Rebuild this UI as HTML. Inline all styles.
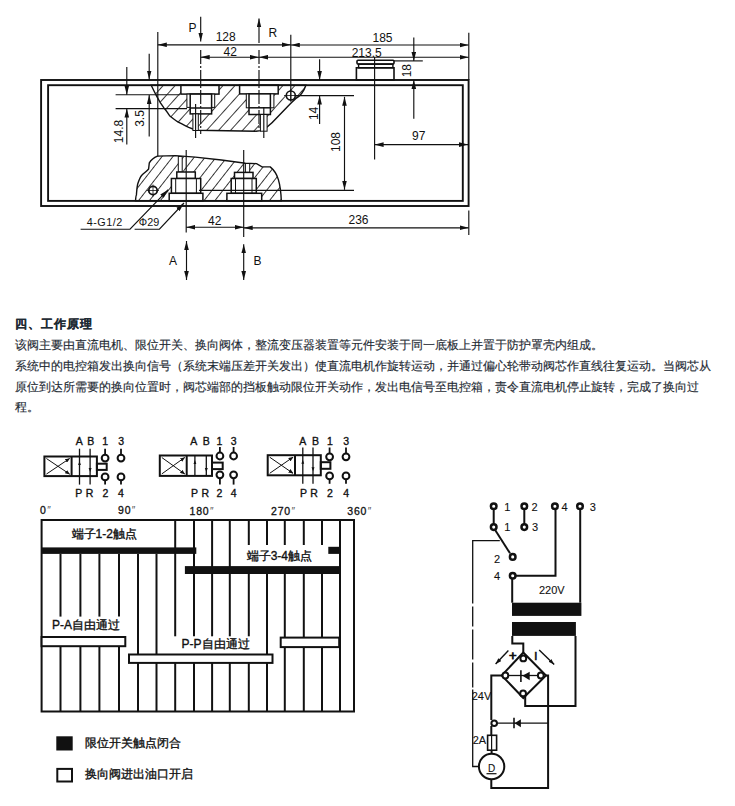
<!DOCTYPE html>
<html><head><meta charset="utf-8">
<style>
html,body{margin:0;padding:0;background:#fff;width:735px;height:806px;overflow:hidden}
svg{position:absolute;left:0;top:0}
.t{font-family:"Liberation Sans",sans-serif}
.para{position:absolute;left:15px;-webkit-text-stroke:0.15px currentColor;font-family:"Liberation Sans",sans-serif;font-size:12px;color:#1e2a33;white-space:nowrap;line-height:12px}
</style></head><body>
<svg width="735" height="806" viewBox="0 0 735 806">
<defs>
<pattern id="hatch" patternUnits="userSpaceOnUse" width="8.6" height="8.6" patternTransform="rotate(38)">
<line x1="0" y1="0" x2="0" y2="8.6" stroke="#111" stroke-width="1.65"/>
</pattern>
<pattern id="hatch2" patternUnits="userSpaceOnUse" width="8.9" height="8.9" patternTransform="rotate(42)">
<line x1="0" y1="0" x2="0" y2="8.9" stroke="#111" stroke-width="1.65"/>
</pattern>
<marker id="ah" viewBox="0 0 9 5" refX="9" refY="2.5" markerWidth="9" markerHeight="5" markerUnits="userSpaceOnUse" orient="auto-start-reverse">
<path d="M0,0.2 L9,2.5 L0,4.8 Z" fill="#111"/>
</marker>
<marker id="ahs" viewBox="0 0 6 4" refX="6" refY="2" markerWidth="6" markerHeight="4" markerUnits="userSpaceOnUse" orient="auto-start-reverse">
<path d="M0,0 L6,2 L0,4 Z" fill="#111"/>
</marker>
<marker id="ahv" viewBox="0 0 5 4" refX="4.5" refY="2" markerWidth="5" markerHeight="4" markerUnits="userSpaceOnUse" orient="auto">
<path d="M0,0 L5,2 L0,4 Z" fill="#111"/>
</marker>
</defs>

<!-- ============ TOP DRAWING ============ -->
<g id="top" fill="none" stroke="#111">
<!-- hatched blocks -->
<path id="ub" d="M151.2,85.2 L305.9,85.2 C304,91 300,96 295.7,98.7 C292,102 290,104 288.4,105.7 L272,122.8 C269,126 266,128.5 260.6,130.6 L256,131.2 L198,130.3 C196.5,130.2 196,130.1 195.5,130 L188.7,127.3 C186,126 184,125 181.9,123.9 L177.8,121.9 C174,119 172,118 169.6,115.7 C167,112 166,110 164.1,108.2 C161,104 159,101 157.3,97.3 C155,93 153,89 151.2,85.2 Z" fill="url(#hatch2)" stroke-width="1.4"/>
<path id="lb" d="M135.5,200.9 C135.8,197 136,195 136.4,194.9 C136.8,190 137,187 137.7,184 C139,180 140,177 141.8,175.2 C144,173 147,171 148.6,169 L149.3,162.9 C151,160 154,157.5 157.4,156.1 L175.7,155.6 L195.3,157.1 L221.4,160 L245.4,163.2 L256.6,163.6 L262,166.9 L270.2,166.9 C274,170 277,175 278.3,179.4 C280,185 281,192 281.3,200.9 Z" fill="url(#hatch)" stroke-width="1.4"/>

<!-- upper ports -->
<g fill="#fff" stroke-width="1.5">
<rect x="180.9" y="85.2" width="38.1" height="8.9"/>
<rect x="186.9" y="94.1" width="27.8" height="13.3" stroke-width="1"/>
<rect x="190.2" y="94.1" width="21.4" height="19.8"/>
<rect x="192.9" y="113.9" width="5.4" height="16.6" stroke-width="1"/>
<rect x="239.6" y="85.2" width="38.6" height="8.7"/>
<rect x="246.3" y="93.9" width="27.6" height="13.9" stroke-width="1"/>
<rect x="249" y="93.9" width="21.4" height="20.6"/>
<rect x="260.4" y="114.5" width="6.7" height="16.7" stroke-width="1"/>
<line x1="190.2" y1="108" x2="211.6" y2="108" stroke-width="1.5"/>
<line x1="249" y1="107.8" x2="270.4" y2="107.8" stroke-width="1.5"/>
</g>
<!-- lower ports -->
<g fill="#fff" stroke-width="1.5">
<rect x="178.3" y="156.5" width="3.9" height="15.5" stroke-width="1"/>
<rect x="176.8" y="172" width="18.5" height="6.5"/>
<rect x="171.4" y="178.5" width="29.3" height="14.8"/>
<line x1="175.7" y1="178.5" x2="175.7" y2="193.3" stroke-width="1"/>
<line x1="196.4" y1="178.5" x2="196.4" y2="193.3" stroke-width="1"/>
<rect x="169.2" y="193.3" width="33.7" height="7.6"/>
<rect x="245.4" y="163.5" width="4.3" height="8.9" stroke-width="1"/>
<rect x="234.5" y="172.4" width="18.5" height="6.1"/>
<rect x="231.2" y="178.5" width="25.1" height="14.8"/>
<line x1="235.5" y1="178.5" x2="235.5" y2="193.3" stroke-width="1"/>
<line x1="252" y1="178.5" x2="252" y2="193.3" stroke-width="1"/>
<rect x="226.9" y="193.3" width="34.8" height="7.6"/>
</g>
<!-- circles -->
<circle cx="290.8" cy="95.5" r="4.5" fill="#fff" stroke-width="1.6"/>
<circle cx="153" cy="190.5" r="4.2" fill="#fff" stroke-width="1.8"/>

<!-- outer / inner rect -->
<rect x="41.1" y="80" width="427.5" height="126" stroke-width="1.9"/>
<rect x="48.1" y="85.2" width="414.7" height="115.7" stroke-width="1.9"/>

<!-- knob -->
<rect x="356.4" y="67.8" width="37.6" height="12.2" stroke-width="1.6"/>
<rect x="358.6" y="64.1" width="34.3" height="3.7" stroke-width="1.4"/>
<rect x="357" y="60.3" width="37" height="3.8" rx="1" stroke-width="1.6"/>

<!-- thin dimension lines -->
<g stroke-width="1.15">
<!-- extension lines -->
<line x1="157.8" y1="32" x2="157.8" y2="156.5"/>
<line x1="290.8" y1="34.8" x2="290.8" y2="101"/>
<line x1="468.8" y1="32.7" x2="468.8" y2="80"/>
<line x1="374.6" y1="57" x2="374.6" y2="159.6"/>
<!-- center lines -->
<line x1="200.7" y1="50" x2="200.7" y2="134" stroke-dasharray="14,2,2,2"/>
<line x1="259" y1="50" x2="259" y2="128" stroke-dasharray="14,2,2,2"/>
<line x1="195.6" y1="104" x2="195.6" y2="138"/>
<line x1="263.8" y1="107" x2="263.8" y2="138"/>
<line x1="186.2" y1="150" x2="186.2" y2="232.4"/>
<line x1="243.7" y1="150" x2="243.7" y2="237"/>
<!-- P / R arrows -->
<line x1="200.7" y1="16.7" x2="200.7" y2="41.6" marker-end="url(#ah)"/>
<line x1="259" y1="43" x2="259" y2="18.4" marker-end="url(#ah)"/>
<!-- 128 / 185 -->
<line x1="157.8" y1="44.8" x2="290.8" y2="44.8" marker-start="url(#ah)" marker-end="url(#ah)"/>
<line x1="290.8" y1="45" x2="468.6" y2="45" marker-start="url(#ah)" marker-end="url(#ah)"/>
<!-- 42 / 213.5 -->
<line x1="200.7" y1="57.2" x2="259" y2="57.2" marker-start="url(#ah)" marker-end="url(#ah)"/>
<line x1="259" y1="57.2" x2="468.6" y2="57.2" marker-start="url(#ah)" marker-end="url(#ah)"/>
<!-- 18 -->
<line x1="413.8" y1="37.4" x2="413.8" y2="60.9" marker-end="url(#ah)"/>
<line x1="413.8" y1="118.8" x2="413.8" y2="80" marker-end="url(#ah)"/>
<line x1="394" y1="60.9" x2="422.8" y2="60.9"/>
<!-- 14 -->
<line x1="319.6" y1="59.3" x2="319.6" y2="80" marker-end="url(#ah)"/>
<line x1="319.6" y1="124" x2="319.6" y2="95.6" marker-end="url(#ah)"/>
<line x1="296" y1="95.6" x2="354" y2="95.6"/>
<!-- 108 -->
<line x1="344.5" y1="96.8" x2="344.5" y2="189.8" marker-start="url(#ah)" marker-end="url(#ah)"/>
<line x1="199" y1="190.3" x2="354" y2="190.3"/>
<!-- 97 -->
<line x1="374.6" y1="144.6" x2="468" y2="144.6" marker-start="url(#ah)" marker-end="url(#ah)"/>
<!-- 3.5 / 14.8 -->
<line x1="149.2" y1="53.8" x2="149.2" y2="79.5" marker-end="url(#ah)"/>
<line x1="149.2" y1="136.4" x2="149.2" y2="95" marker-end="url(#ah)"/>
<line x1="126.8" y1="67" x2="126.8" y2="94.7" marker-end="url(#ah)"/>
<line x1="126.8" y1="144.5" x2="126.8" y2="108.6" marker-end="url(#ah)"/>
<line x1="115.6" y1="94.7" x2="180" y2="94.7"/>
<line x1="115.6" y1="108.6" x2="187" y2="108.6"/>
<!-- 42 bottom / 236 -->
<line x1="186.2" y1="227.2" x2="243.7" y2="227.2" marker-start="url(#ah)" marker-end="url(#ah)"/>
<line x1="243.7" y1="227.8" x2="468.6" y2="227.8" marker-start="url(#ah)" marker-end="url(#ah)"/>
<line x1="468.8" y1="210.5" x2="468.8" y2="235"/>
<!-- A / B arrows -->
<line x1="186.5" y1="241" x2="186.5" y2="280" marker-start="url(#ah)" marker-end="url(#ah)"/>
<line x1="243.7" y1="244.2" x2="243.7" y2="280" marker-start="url(#ah)" marker-end="url(#ah)"/>
<!-- leaders -->
<polyline points="80.6,229.2 130,229.2 168.2,189.7" marker-end="url(#ah)"/>
<polyline points="134.6,229.2 159.4,229.2 184,203" marker-end="url(#ah)"/>
</g>
<!-- circle center marks -->
<g stroke-width="0.8">
<line x1="284" y1="95.5" x2="298" y2="95.5"/>
<line x1="290.8" y1="89" x2="290.8" y2="102"/>
<line x1="147" y1="190.5" x2="159" y2="190.5"/>
<line x1="153" y1="184.5" x2="153" y2="196.5"/>
</g>
</g>

<!-- top drawing labels -->
<g class="t" fill="#111" font-size="12" text-anchor="middle">
<text x="192.5" y="32">P</text>
<text x="272.8" y="36.5">R</text>
<text x="225.7" y="41.3">128</text>
<text x="230.3" y="56.3">42</text>
<text x="382.5" y="41.6">185</text>
<text x="366.7" y="56.7">213.5</text>
<text x="418.7" y="139.9">97</text>
<text x="358.5" y="223.9">236</text>
<text x="214.8" y="224.9">42</text>
<text x="172.9" y="265.3">A</text>
<text x="257.6" y="265.3">B</text>
<text x="86.8" y="225.6" font-size="10.8" text-anchor="start" textLength="35.4" lengthAdjust="spacing">4-G1/2</text>
<text x="149" y="225.6" font-size="10.8"><tspan font-size="10.5">Φ</tspan>29</text>
<text transform="translate(410.8,70.7) rotate(-90)">18</text>
<text transform="translate(317.8,113.4) rotate(-90)">14</text>
<text transform="translate(339.5,142) rotate(-90)">108</text>
<text transform="translate(144.3,118.5) rotate(-90)">3.5</text>
<text transform="translate(123.4,131.5) rotate(-90)">14.8</text>
</g>

<!--BOTTOM-->
<!-- ============ VALVES ============ -->
<g fill="none" stroke="#111">
<rect x="44.4" y="456.5" width="52.5" height="19.6" stroke-width="2"/>
<line x1="71.6" y1="456.5" x2="71.6" y2="476.1" stroke-width="2"/>
<rect x="96.9" y="463.7" width="9.8" height="6.2" stroke-width="2"/>
<line x1="46.4" y1="474.1" x2="69.6" y2="458.5" stroke-width="1" marker-end="url(#ahv)"/>
<line x1="46.4" y1="458.5" x2="69.6" y2="474.1" stroke-width="1" marker-end="url(#ahv)"/>
<line x1="79.5" y1="448.7" x2="79.5" y2="484.6" stroke-width="1.3"/>
<line x1="90.1" y1="448.7" x2="90.1" y2="484.6" stroke-width="1.3"/>
<path d="M78.1,465.0 L79.5,461.0 L80.9,465.0 Z" fill="#111" stroke="none"/>
<path d="M88.6,468.1 L90.1,472.1 L91.6,468.1 Z" fill="#111" stroke="none"/>
<circle cx="105.1" cy="458.1" r="3.4" stroke-width="2"/>
<circle cx="105.1" cy="476.9" r="3.4" stroke-width="2"/>
<line x1="105.1" y1="448.7" x2="105.1" y2="454.70000000000005" stroke-width="1.8"/>
<line x1="105.1" y1="480.29999999999995" x2="105.1" y2="484.6" stroke-width="1.8"/>
<circle cx="121" cy="458.1" r="3.4" stroke-width="2"/>
<circle cx="121" cy="476.9" r="3.4" stroke-width="2"/>
<line x1="121" y1="448.7" x2="121" y2="454.70000000000005" stroke-width="1.8"/>
<line x1="121" y1="480.29999999999995" x2="121" y2="484.6" stroke-width="1.8"/>
<rect x="159.8" y="455.5" width="52.2" height="20.4" stroke-width="2"/>
<line x1="186.7" y1="455.5" x2="186.7" y2="475.9" stroke-width="2"/>
<rect x="212" y="462.6" width="10.7" height="6.5" stroke-width="2"/>
<line x1="161.8" y1="473.9" x2="184.7" y2="457.5" stroke-width="1" marker-end="url(#ahv)"/>
<line x1="161.8" y1="457.5" x2="184.7" y2="473.9" stroke-width="1" marker-end="url(#ahv)"/>
<line x1="194.9" y1="455.5" x2="194.9" y2="475.9" stroke-width="1.3"/>
<line x1="206.3" y1="455.5" x2="206.3" y2="475.9" stroke-width="1.3"/>
<path d="M193.5,464.0 L194.9,460.0 L196.3,464.0 Z" fill="#111" stroke="none"/>
<path d="M204.8,467.9 L206.3,471.9 L207.8,467.9 Z" fill="#111" stroke="none"/>
<circle cx="219.9" cy="456" r="3.4" stroke-width="2"/>
<circle cx="219.9" cy="474.8" r="3.4" stroke-width="2"/>
<line x1="219.9" y1="447" x2="219.9" y2="452.6" stroke-width="1.8"/>
<line x1="219.9" y1="478.2" x2="219.9" y2="484.6" stroke-width="1.8"/>
<circle cx="233.6" cy="456" r="3.4" stroke-width="2"/>
<circle cx="233.6" cy="474.8" r="3.4" stroke-width="2"/>
<line x1="233.6" y1="447" x2="233.6" y2="452.6" stroke-width="1.8"/>
<line x1="233.6" y1="478.2" x2="233.6" y2="484.6" stroke-width="1.8"/>
<rect x="267.7" y="455.2" width="53.1" height="20.1" stroke-width="2"/>
<line x1="295" y1="455.2" x2="295" y2="475.3" stroke-width="2"/>
<rect x="320.8" y="462.2" width="9.6" height="6.6" stroke-width="2"/>
<line x1="269.7" y1="473.3" x2="293" y2="457.2" stroke-width="1" marker-end="url(#ahv)"/>
<line x1="269.7" y1="457.2" x2="293" y2="473.3" stroke-width="1" marker-end="url(#ahv)"/>
<line x1="302.8" y1="447.5" x2="302.8" y2="483.8" stroke-width="1.3"/>
<line x1="313" y1="447.5" x2="313" y2="483.8" stroke-width="1.3"/>
<path d="M301.40000000000003,463.7 L302.8,459.7 L304.2,463.7 Z" fill="#111" stroke="none"/>
<path d="M311.5,467.3 L313,471.3 L314.5,467.3 Z" fill="#111" stroke="none"/>
<circle cx="329.6" cy="456.8" r="3.4" stroke-width="2"/>
<circle cx="329.6" cy="475.9" r="3.4" stroke-width="2"/>
<line x1="329.6" y1="447.5" x2="329.6" y2="453.40000000000003" stroke-width="1.8"/>
<line x1="329.6" y1="479.29999999999995" x2="329.6" y2="483.8" stroke-width="1.8"/>
<circle cx="346" cy="456.8" r="3.4" stroke-width="2"/>
<circle cx="346" cy="475.9" r="3.4" stroke-width="2"/>
<line x1="346" y1="447.5" x2="346" y2="453.40000000000003" stroke-width="1.8"/>
<line x1="346" y1="479.29999999999995" x2="346" y2="483.8" stroke-width="1.8"/>
</g>
<g class="t" fill="#111" stroke="#111" stroke-width="0.35" font-size="10.5" text-anchor="middle"><text x="79.3" y="444.5">A</text><text x="90.7" y="444.5">B</text><text x="105.1" y="444.5">1</text><text x="121.1" y="444.5">3</text><text x="78.7" y="497.3">P</text><text x="89.6" y="497.3">R</text><text x="105.3" y="497.3">2</text><text x="121" y="497.3">4</text><text x="193.8" y="444.5">A</text><text x="206.3" y="444.5">B</text><text x="219.4" y="444.5">1</text><text x="233.6" y="444.5">3</text><text x="194.4" y="497.3">P</text><text x="205.2" y="497.3">R</text><text x="219.4" y="497.3">2</text><text x="233.6" y="497.3">4</text><text x="302.8" y="444.5">A</text><text x="315.4" y="444.5">B</text><text x="329.8" y="444.5">1</text><text x="346.1" y="444.5">3</text><text x="303.5" y="497.3">P</text><text x="314.1" y="497.3">R</text><text x="329.8" y="497.3">2</text><text x="346.1" y="497.3">4</text></g>
<!-- ============ CHART ============ -->
<g fill="none" stroke="#111">
<line x1="60.5" y1="553.9" x2="60.5" y2="616.6" stroke-width="2"/>
<line x1="60.5" y1="646.2" x2="60.5" y2="711.5" stroke-width="2"/>
<line x1="80.4" y1="553.9" x2="80.4" y2="616.6" stroke-width="2"/>
<line x1="80.4" y1="646.2" x2="80.4" y2="711.5" stroke-width="2"/>
<line x1="99.4" y1="553.9" x2="99.4" y2="616.6" stroke-width="2"/>
<line x1="99.4" y1="646.2" x2="99.4" y2="711.5" stroke-width="2"/>
<line x1="119" y1="553.9" x2="119" y2="616.6" stroke-width="2"/>
<line x1="119" y1="646.2" x2="119" y2="711.5" stroke-width="2"/>
<line x1="138" y1="553.9" x2="138" y2="654.5" stroke-width="2"/>
<line x1="138" y1="662.9" x2="138" y2="711.5" stroke-width="2"/>
<line x1="156.5" y1="553.9" x2="156.5" y2="654.5" stroke-width="2"/>
<line x1="156.5" y1="662.9" x2="156.5" y2="711.5" stroke-width="2"/>
<line x1="175.2" y1="520" x2="175.2" y2="636.3" stroke-width="2"/>
<line x1="175.2" y1="662.9" x2="175.2" y2="711.5" stroke-width="2"/>
<line x1="194" y1="520" x2="194" y2="636.3" stroke-width="2"/>
<line x1="194" y1="662.9" x2="194" y2="711.5" stroke-width="2"/>
<line x1="212.1" y1="520" x2="212.1" y2="636.3" stroke-width="2"/>
<line x1="212.1" y1="662.9" x2="212.1" y2="711.5" stroke-width="2"/>
<line x1="229.8" y1="520" x2="229.8" y2="636.3" stroke-width="2"/>
<line x1="229.8" y1="662.9" x2="229.8" y2="711.5" stroke-width="2"/>
<line x1="248.8" y1="520" x2="248.8" y2="545" stroke-width="2"/>
<line x1="248.8" y1="574" x2="248.8" y2="636.3" stroke-width="2"/>
<line x1="248.8" y1="662.9" x2="248.8" y2="711.5" stroke-width="2"/>
<line x1="267" y1="520" x2="267" y2="545" stroke-width="2"/>
<line x1="267" y1="574" x2="267" y2="654.5" stroke-width="2"/>
<line x1="267" y1="662.9" x2="267" y2="711.5" stroke-width="2"/>
<line x1="284.8" y1="520" x2="284.8" y2="545" stroke-width="2"/>
<line x1="284.8" y1="574" x2="284.8" y2="637.6" stroke-width="2"/>
<line x1="284.8" y1="647.1" x2="284.8" y2="711.5" stroke-width="2"/>
<line x1="303.8" y1="520" x2="303.8" y2="545" stroke-width="2"/>
<line x1="303.8" y1="574" x2="303.8" y2="637.6" stroke-width="2"/>
<line x1="303.8" y1="647.1" x2="303.8" y2="711.5" stroke-width="2"/>
<line x1="322" y1="520" x2="322" y2="545" stroke-width="2"/>
<line x1="322" y1="574" x2="322" y2="637.6" stroke-width="2"/>
<line x1="322" y1="647.1" x2="322" y2="711.5" stroke-width="2"/>
<line x1="340" y1="520" x2="340" y2="711.5" stroke-width="2"/>
<path d="M41.6,520 H354 V711.5 H41.6 Z" stroke-width="2"/>
</g>
<g fill="#111">
<rect x="41.6" y="547.4" width="154.7" height="6.5"/>
<rect x="328.3" y="546.8" width="11.7" height="7.1"/>
<rect x="184.9" y="566.1" width="155.1" height="7.9"/>
</g>
<g fill="#fff" stroke="#111" stroke-width="2">
<rect x="41.6" y="637" width="83.7" height="9.2"/>
<rect x="129" y="654.5" width="143.5" height="8.4"/>
<rect x="280.7" y="637.6" width="58.5" height="9.5"/>
</g>
<g class="t" fill="#111" stroke="#111" stroke-width="0.3" font-size="10.5" letter-spacing="0.8">
<text x="40" y="514">0<tspan stroke="none" font-size="10" dx="0.5" fill="#555">″</tspan></text><text x="118" y="514">90<tspan stroke="none" font-size="10" dx="0.5" fill="#555">″</tspan></text><text x="189.5" y="515">180<tspan stroke="none" font-size="10" dx="0.5" fill="#555">″</tspan></text><text x="271" y="515">270<tspan stroke="none" font-size="10" dx="0.5" fill="#555">″</tspan></text><text x="347.3" y="515">360<tspan stroke="none" font-size="10" dx="0.5" fill="#555">″</tspan></text>
</g>
<rect x="56.3" y="736.3" width="16.4" height="14.2" fill="#111"/>
<rect x="57.3" y="768.9" width="14.7" height="12.6" fill="none" stroke="#111" stroke-width="2"/>
<!-- ============ CIRCUIT ============ -->
<g fill="none" stroke="#111" stroke-width="2">
<circle cx="493.7" cy="506.3" r="2.8" fill="#fff" stroke-width="2.5"/>
<circle cx="524.3" cy="506.3" r="2.8" fill="#fff" stroke-width="2.5"/>
<circle cx="554.9" cy="506.3" r="2.8" fill="#fff" stroke-width="2.5"/>
<circle cx="580" cy="506.3" r="2.8" fill="#fff" stroke-width="2.5"/>
<circle cx="493.7" cy="527.1" r="2.8" fill="#fff" stroke-width="2.5"/>
<circle cx="524.3" cy="527.1" r="2.8" fill="#fff" stroke-width="2.5"/>
<circle cx="512.7" cy="556.9" r="2.8" fill="#fff" stroke-width="2.5"/>
<circle cx="512.7" cy="575.7" r="2.8" fill="#fff" stroke-width="2.5"/>
<line x1="493.7" y1="508.9" x2="493.7" y2="524.5"/>
<line x1="524.3" y1="508.9" x2="524.3" y2="524.5"/>
<line x1="494.5" y1="529" x2="510" y2="553.3"/>
<polyline points="515.3,575.7 555.5,575.7 555.5,508.9"/>
<line x1="580.2" y1="508.9" x2="580.2" y2="602.7"/>
<line x1="512.2" y1="578.3" x2="512.2" y2="602.7"/>
<rect x="512" y="602.7" width="69.4" height="13.2" fill="#111" stroke="none"/>
<rect x="512" y="622" width="63.9" height="13.9" fill="#111" stroke="none"/>
<polyline points="512.3,635.9 512.3,643.4 523.3,643.4 523.3,652.5"/>
<polyline points="575.5,635.9 575.5,706.1 525.2,706.1 525.2,695.5"/>
<path d="M523.3,652.5 L546,675.5 L523.3,698 L501.7,675.5 Z"/>
<circle cx="523.3" cy="658.4" r="2.9" fill="#fff"/>
<circle cx="505.4" cy="675.5" r="2.9" fill="#fff"/>
<circle cx="540.8" cy="675.5" r="2.9" fill="#fff"/>
<circle cx="523.1" cy="693.4" r="2.9" fill="#fff"/>
<line x1="508.3" y1="675.5" x2="537.9" y2="675.5" stroke-width="1.3"/>
<path d="M522.4,675.8 L529.7,671.8 L529.7,680.2 Z" fill="#111" stroke="none"/>
<line x1="520.9" y1="670.2" x2="520.9" y2="681.9" stroke-width="1.6"/>
<polyline points="501.7,675.5 491.3,675.5 491.3,720.1"/>
<polyline points="546,675.5 548.1,675.5 548.1,788 491.3,788 491.3,779.2"/>
<line x1="508.4" y1="650.6" x2="495.6" y2="664" stroke-width="1.4" marker-end="url(#ahs)"/>
<line x1="539.2" y1="650" x2="554.2" y2="664.6" stroke-width="1.4" marker-end="url(#ahs)"/>
<circle cx="494.2" cy="723.2" r="2.8" fill="#fff"/>
<line x1="497" y1="723.2" x2="548.1" y2="723.2" stroke-width="1.3"/>
<path d="M514.6,723.2 L520.9,719.2 L520.9,727.2 Z" fill="#111" stroke="none"/>
<line x1="514" y1="717.7" x2="514" y2="728.3" stroke-width="1.6"/>
<line x1="491.3" y1="726" x2="491.3" y2="735.3"/>
<rect x="487.6" y="735.3" width="9" height="14.9" stroke-width="1.6"/>
<line x1="491.6" y1="735.3" x2="491.6" y2="750.2" stroke-width="1.2"/>
<line x1="491.6" y1="750.2" x2="491.6" y2="753.8"/>
<circle cx="491.6" cy="766.5" r="12.7"/>
<line x1="486.5" y1="773.7" x2="496.5" y2="773.7" stroke-width="1.2"/>
<polyline points="499.8,540.6 472.7,540.6 472.7,766.5 478.9,766.5" stroke-width="1.3" stroke-dasharray="90,3,20,3,30,3,25,2,200"/>
</g>
<g class="t" fill="#111" stroke="#111" stroke-width="0.1" font-size="11" text-anchor="middle">
<text x="507.3" y="511.3">1</text><text x="534.5" y="511.3">2</text><text x="564.5" y="511.3">4</text><text x="592.7" y="511.3">3</text>
<text x="507.3" y="531">1</text><text x="535.1" y="531">3</text>
<text x="497.1" y="563.4">2</text><text x="497.1" y="579.7">4</text>
<text x="551.8" y="594.4">220V</text>
<text x="481.5" y="700.1">24V</text>
<text x="479.4" y="744">2A</text>
<text x="491.6" y="771.6" font-size="10">D</text>
<text x="512.9" y="659.8" font-size="13" stroke-width="0.8">+</text><text x="535.9" y="660.3" font-size="11" stroke-width="0.6">I</text>
</g>
<!--/BOTTOM-->
</svg>

<div class="para" style="top:318px;font-weight:bold;letter-spacing:1px">四、工作原理</div>
<div class="para" style="top:339px">该阀主要由直流电机、限位开关、换向阀体，整流变压器装置等元件安装于同一底板上并置于防护罩壳内组成。</div>
<div class="para" style="top:360px">系统中的电控箱发出换向信号（系统末端压差开关发出）使直流电机作旋转运动，并通过偏心轮带动阀芯作直线往复运动。当阀芯从</div>
<div class="para" style="top:380.5px">原位到达所需要的换向位置时，阀芯端部的挡板触动限位开关动作，发出电信号至电控箱，责令直流电机停止旋转，完成了换向过</div>
<div class="para" style="top:401px">程。</div>
<div class="para" style="top:528px;left:71.6px;color:#111;-webkit-text-stroke:0.35px #111">端子1-2触点</div>
<div class="para" style="top:550px;left:246.7px;color:#111;-webkit-text-stroke:0.35px #111">端子3-4触点</div>
<div class="para" style="top:619px;left:52px;color:#111;-webkit-text-stroke:0.35px #111">P-A自由通过</div>
<div class="para" style="top:638px;left:181.5px;color:#111;-webkit-text-stroke:0.35px #111">P-P自由通过</div>
<div class="para" style="top:737px;left:84.6px;color:#111;-webkit-text-stroke:0.35px #111">限位开关触点闭合</div>
<div class="para" style="top:768px;left:84.6px;color:#111;-webkit-text-stroke:0.35px #111">换向阀进出油口开启</div>
</body></html>
